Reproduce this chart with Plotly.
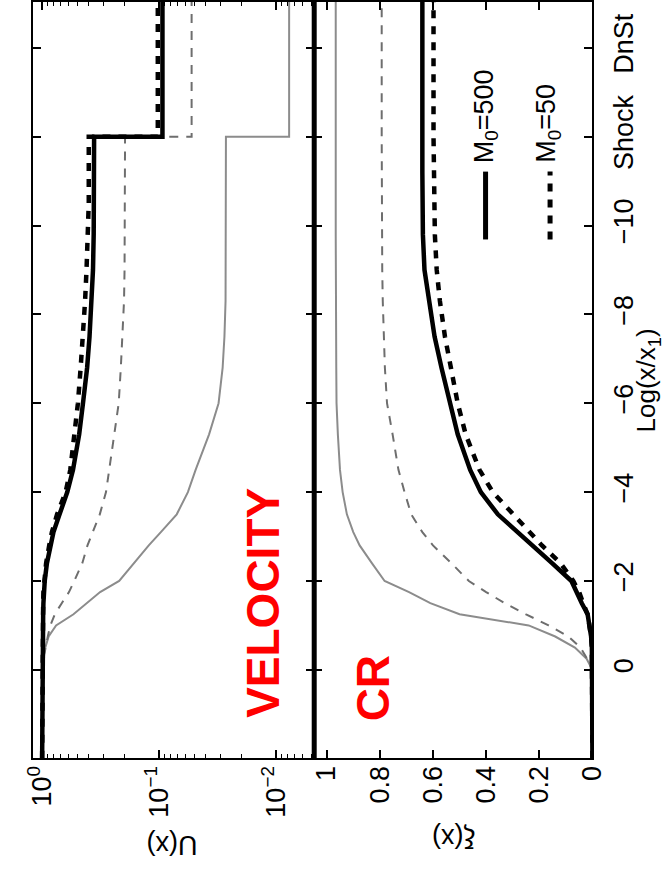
import plotly.graph_objects as go

# ---------------- data ----------------
# position along the shock-normal axis: Log(x/x1); "Shock" and "DnSt" are extra slots
log_x = [2.0, 0.0, -0.25, -0.5, -0.75, -1.0, -1.25, -1.5, -1.75, -2.0, -2.4, -2.8,
         -3.1, -3.5, -4.0, -4.5, -5.3, -6.0, -6.8, -7.5, -8.3, -9.0, -9.8, -10.5,
         -11.2, -12.0]
shock_pos = -12.0
dnst_end = -15.5
pos_ticks = [0, -2, -4, -6, -8, -10, -12, -14]
pos_ticktext = ["0", "\u22122", "\u22124", "\u22126", "\u22128", "\u221210", "Shock", "DnSt"]

# velocity U(x), upstream
u_thick_500 = [1.0, 1.0, 1.0, 0.995, 0.99, 0.985, 0.98, 0.975, 0.965, 0.95, 0.91, 0.85,
               0.80, 0.71, 0.61, 0.545, 0.483, 0.448, 0.413, 0.394, 0.376, 0.368, 0.363,
               0.36, 0.36, 0.36]
u_thick_50 = [1.0, 1.0, 1.0, 1.0, 0.995, 0.99, 0.985, 0.98, 0.975, 0.96, 0.925, 0.87,
              0.825, 0.745, 0.63, 0.575, 0.529, 0.495, 0.469, 0.447, 0.43, 0.418, 0.408,
              0.40, 0.40, 0.40]
u_thin_50 = [1.0, 1.0, 0.975, 0.94, 0.895, 0.85, 0.78, 0.68, 0.59, 0.532, 0.454, 0.41,
             0.372, 0.322, 0.285, 0.268, 0.242, 0.222, 0.213, 0.206, 0.20, 0.198, 0.197,
             0.196, 0.196, 0.196]
u_thin_500 = [1.0, 1.0, 0.98, 0.94, 0.88, 0.76, 0.54, 0.42, 0.32, 0.22, 0.165, 0.123,
              0.097, 0.071, 0.057, 0.049, 0.0376, 0.0312, 0.0288, 0.0278, 0.0272, 0.0271,
              0.027, 0.027, 0.027, 0.027]
# velocity downstream of the subshock
u_thick_500_down = 0.094
u_thick_50_down = 0.103
u_thin_50_down = 0.053
u_thin_500_down = 0.0078

# cosmic-ray pressure xi(x), upstream (continuous across the shock)
xi_thick_500 = [0.0, 0.0, 0.0, 0.002, 0.005, 0.01, 0.018, 0.04, 0.06, 0.079, 0.152, 0.228,
                0.28, 0.356, 0.42, 0.46, 0.507, 0.537, 0.568, 0.594, 0.616, 0.632, 0.638,
                0.64, 0.64, 0.64]
xi_thick_50 = [0.0, 0.0, 0.0, 0.002, 0.005, 0.01, 0.018, 0.035, 0.05, 0.072, 0.12, 0.19,
               0.235, 0.298, 0.375, 0.425, 0.477, 0.507, 0.531, 0.555, 0.574, 0.586, 0.593,
               0.595, 0.597, 0.598]
xi_thin_50 = [0.0, 0.0, 0.02, 0.045, 0.09, 0.165, 0.25, 0.33, 0.40, 0.465, 0.531, 0.60,
              0.64, 0.682, 0.707, 0.73, 0.752, 0.773, 0.781, 0.786, 0.789, 0.791, 0.792,
              0.793, 0.793, 0.793]
xi_thin_500 = [0.0, 0.0, 0.022, 0.066, 0.14, 0.24, 0.50, 0.61, 0.69, 0.782, 0.83, 0.876,
               0.90, 0.924, 0.94, 0.95, 0.958, 0.963, 0.964, 0.965, 0.966, 0.966, 0.966,
               0.966, 0.966, 0.966]

u_ticks = [1, 0.1, 0.01]
u_ticktext = ["10<sup>0</sup>", "10<sup>\u22121</sup>", "10<sup>\u22122</sup>"]
u_minor = [0.9, 0.8, 0.7, 0.6, 0.5, 0.4, 0.3, 0.2,
           0.09, 0.08, 0.07, 0.06, 0.05, 0.04, 0.03, 0.02,
           0.009, 0.008, 0.007, 0.006, 0.005]
xi_ticks = [1, 0.8, 0.6, 0.4, 0.2, 0]
xi_ticktext = ["1", "0.8", "0.6", "0.4", "0.2", "0"]

# ---------------- styles ----------------
FONT = "Liberation Sans, Arial, sans-serif"
thick_solid = dict(color="black", width=4.5)
thick_dash = dict(color="black", width=4.5, dash="8px,8px")
thin_solid = dict(color="#8c8c8c", width=2)
thin_dash = dict(color="#6e6e6e", width=2, dash="9px,8px")

fig = go.Figure()

u_series = [
    (u_thin_500, u_thin_500_down, thin_solid),
    (u_thin_50, u_thin_50_down, thin_dash),
    (u_thick_50, u_thick_50_down, thick_dash),
    (u_thick_500, u_thick_500_down, thick_solid),
]
for vals, down, style in u_series:
    fig.add_trace(go.Scatter(x=vals + [down, down], y=log_x + [shock_pos, dnst_end],
                             mode="lines", line=style, xaxis="x", yaxis="y",
                             showlegend=False, hoverinfo="skip"))

xi_series = [
    (xi_thin_500, thin_solid),
    (xi_thin_50, thin_dash),
    (xi_thick_50, thick_dash),
    (xi_thick_500, thick_solid),
]
for vals, style in xi_series:
    fig.add_trace(go.Scatter(x=vals + [vals[-1]], y=log_x + [dnst_end],
                             mode="lines", line=style, xaxis="x2", yaxis="y2",
                             showlegend=False, hoverinfo="skip"))

W, H = 670, 870
x1_dom = [24 / W, 316 / W]
x2_dom = [316 / W, 605 / W]
y_dom = [112 / H, 1.0]

common_axis = dict(showline=True, linecolor="black", linewidth=2, mirror="ticks",
                   ticks="inside", ticklen=8, tickwidth=1.5, tickcolor="black",
                   showgrid=False, zeroline=False,
                   tickfont=dict(family=FONT, size=27, color="black"))

fig.update_layout(
    width=W, height=H,
    margin=dict(l=0, r=0, t=0, b=0),
    paper_bgcolor="white", plot_bgcolor="white",
    showlegend=False,
    xaxis=dict(domain=x1_dom, anchor="y", type="log", range=[0.077, -2.322],
               tickmode="array", tickvals=u_ticks, ticktext=u_ticktext,
               tickangle=-90, ticklabelstandoff=-5,
               minor=dict(ticks="inside", ticklen=4, tickwidth=1, tickcolor="black",
                          tickmode="array", tickvals=u_minor),
               **common_axis),
    xaxis2=dict(domain=x2_dom, anchor="y2", range=[1.047, 0],
                tickmode="array", tickvals=xi_ticks, ticktext=xi_ticktext,
                tickangle=-90, ticklabelstandoff=-5,
                **common_axis),
    yaxis=dict(domain=y_dom, anchor="x", range=[1.99, -15.03],
               tickmode="array", tickvals=pos_ticks, showticklabels=False,
               **common_axis),
    yaxis2=dict(domain=y_dom, anchor="x2", matches="y", range=[1.99, -15.03],
                side="right", tickmode="array", tickvals=pos_ticks,
                ticktext=pos_ticktext, tickangle=-90, ticklabelstandoff=6,
                **common_axis),
)

# thick separator between the two panels
fig.add_shape(type="line", xref="paper", yref="paper",
              x0=316 / W, x1=316 / W, y0=y_dom[0], y1=1.0,
              line=dict(color="black", width=5))

# legend (rotated, drawn by hand)
leg_y0, leg_y1 = 1 - 238 / H, 1 - 170 / H
fig.add_shape(type="line", xref="paper", yref="paper", x0=494 / W, x1=494 / W,
              y0=leg_y0, y1=leg_y1, line=dict(color="black", width=5))
fig.add_shape(type="line", xref="paper", yref="paper", x0=561 / W, x1=561 / W,
              y0=leg_y0, y1=leg_y1, line=dict(color="black", width=5, dash="8px,8px"))

def ann(text, x, y, angle, size, color="black"):
    fig.add_annotation(text=text, x=x / W, y=1 - y / H, xref="paper", yref="paper",
                       showarrow=False, textangle=angle, xanchor="center",
                       yanchor="middle", font=dict(family=FONT, size=size, color=color))

ann("M<sub>0</sub>=500", 494, 115, -90, 27)
ann("M<sub>0</sub>=50", 559, 122, -90, 27)
ann("<b>VELOCITY</b>", 262, 602, -90, 46, "#ff0000")
ann("<b>CR</b>", 377, 688, -90, 46, "#ff0000")
ann("U(x)", 168, 845, 180, 27)
ann("\u03be(x)", 461, 838, 180, 27)
ann("Log(x/x<sub>1</sub>)", 662, 379, -90, 26)

fig.write_html("out.html")
